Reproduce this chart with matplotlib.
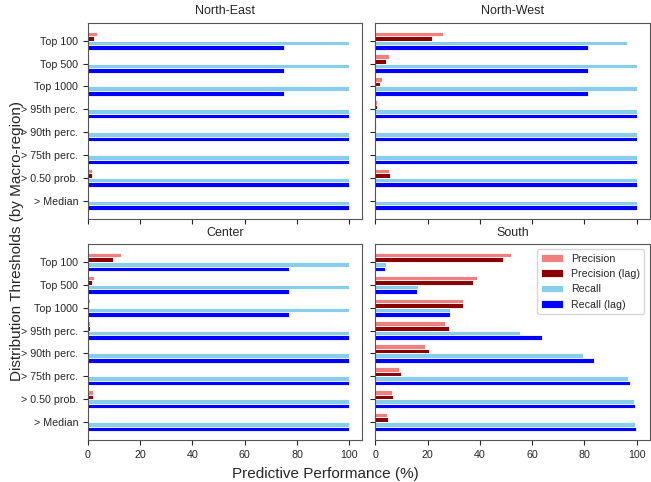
import matplotlib
matplotlib.use("Agg")
import matplotlib.pyplot as plt
import numpy as np
import seaborn as sns

sns.set_style("ticks")
plt.rcParams['font.family'] = ['Liberation Sans', 'DejaVu Sans']

categories = ["Top 100", "Top 500", "Top 1000", "> 95th perc.", "> 90th perc.",
              "> 75th perc.", "> 0.50 prob.", "> Median"]
regions = ["North-East", "North-West", "Center", "South"]
series = ["Precision", "Precision (lag)", "Recall", "Recall (lag)"]
colors = ["#F08080", "#8B0000", "#87CEEB", "#0000FF"]

ne_precision = [3.6, 0.5, 0.0, 0.0, 0.0, 0.0, 1.5, 0.0]
ne_precision_lag = [2.5, 0.3, 0.0, 0.0, 0.0, 0.0, 1.5, 0.0]
ne_recall = [100, 100, 100, 100, 100, 100, 100, 100]
ne_recall_lag = [75, 75, 75, 100, 100, 100, 100, 100]

nw_precision = [25.8, 5.1, 2.4, 0.6, 0.2, 0.0, 5.1, 0.0]
nw_precision_lag = [21.8, 4.1, 1.8, 0.6, 0.0, 0.0, 5.6, 0.0]
nw_recall = [96.4, 100, 100, 100, 100, 100, 100, 100]
nw_recall_lag = [81.5, 81.5, 81.5, 100, 100, 100, 100, 100]

ce_precision = [12.6, 2.2, 1.0, 1.0, 0.4, 0.0, 1.8, 0.0]
ce_precision_lag = [9.7, 1.7, 0.6, 1.0, 0.4, 0.0, 1.8, 0.0]
ce_recall = [100, 100, 100, 100, 100, 100, 100, 100]
ce_recall_lag = [76.8, 76.8, 76.8, 100, 100, 100, 100, 100]

so_precision = [51.8, 38.8, 33.6, 26.8, 19.2, 9.0, 6.5, 4.6]
so_precision_lag = [48.9, 37.3, 33.6, 28.1, 20.5, 9.8, 6.7, 5.0]
so_recall = [4.1, 16.3, 28.6, 55.2, 79.5, 96.8, 99.0, 99.5]
so_recall_lag = [3.8, 15.8, 28.6, 63.9, 83.7, 97.6, 99.5, 99.9]

data = {
    "North-East": [ne_precision, ne_precision_lag, ne_recall, ne_recall_lag],
    "North-West": [nw_precision, nw_precision_lag, nw_recall, nw_recall_lag],
    "Center": [ce_precision, ce_precision_lag, ce_recall, ce_recall_lag],
    "South": [so_precision, so_precision_lag, so_recall, so_recall_lag],
}

fig, axes = plt.subplots(2, 2, figsize=(6.51, 4.82), dpi=100, sharex=True, sharey=True)
fig.subplots_adjust(left=0.135, right=0.998, top=0.953, bottom=0.087, wspace=0.047, hspace=0.128)

y = np.arange(len(categories))
h = 0.2
offsets = [-0.3, -0.1, 0.1, 0.3]
for ax, reg in zip(axes.flat, regions):
    for vals, off, col, lab in zip(data[reg], offsets, colors, series):
        ax.barh(y + off, vals, height=h, color=col, edgecolor="white", linewidth=0.6, label=lab)
    ax.set_title(reg, fontsize=9, pad=6)
    ax.set_yticks(y)
    ax.set_yticklabels(categories)
    ax.tick_params(labelsize=7.7, length=3.5)
    for s in ax.spines.values():
        s.set_color("#555555")
ax0 = axes[0, 0]
ax0.set_xlim(0, 105)
ax0.set_xticks([0, 20, 40, 60, 80, 100])
ax0.set_ylim(7.79, -0.79)

axes[1, 1].legend(loc="upper right", fontsize=7.7, frameon=True)

fig.supylabel("Distribution Thresholds (by Macro-region)", fontsize=11, x=0.015)
fig.supxlabel("Predictive Performance (%)", fontsize=11, y=0.002)

fig.savefig("out.png", dpi=100)
